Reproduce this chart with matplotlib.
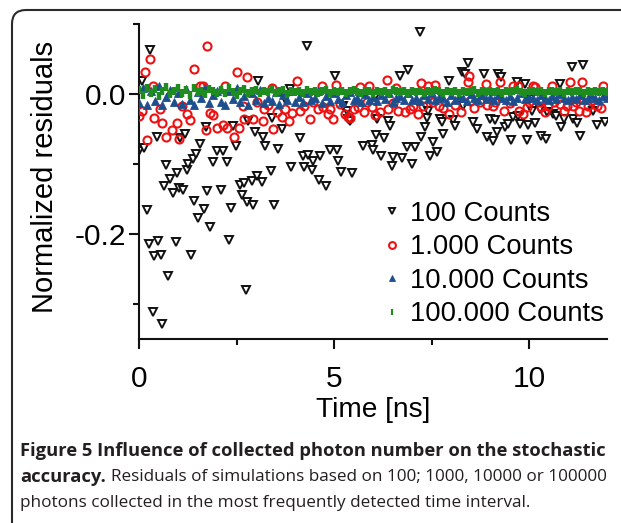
import matplotlib
matplotlib.use("Agg")
import matplotlib.pyplot as plt
from matplotlib.patches import FancyBboxPatch
from matplotlib.transforms import IdentityTransform
from matplotlib.ticker import MultipleLocator, FormatStrFormatter

# ---------------- data ----------------
series_labels = ["100 Counts", "1.000 Counts", "10.000 Counts", "100.000 Counts"]

black_t = [0.00, 0.08, 0.13, 0.21, 0.26, 0.28, 0.36, 0.38, 0.46, 0.49,
           0.56, 0.59, 0.64, 0.69, 0.74, 0.79, 0.87, 0.95, 0.97, 1.03,
           1.05, 1.13, 1.18, 1.23, 1.26, 1.33, 1.38, 1.40, 1.46, 1.51,
           1.56, 1.67, 1.72, 1.74, 1.82, 1.90, 2.00, 2.10, 2.15, 2.26,
           2.31, 2.36, 2.41, 2.49, 2.59, 2.64, 2.69, 2.74, 2.77, 2.79,
           2.90, 2.92, 2.97, 3.03, 3.05, 3.15, 3.18, 3.23, 3.38, 3.41,
           3.46, 3.56, 3.67, 3.74, 3.87, 3.90, 4.13, 4.21, 4.23, 4.31,
           4.33, 4.44, 4.46, 4.62, 4.64, 4.79, 4.90, 5.03, 5.08, 5.10,
           5.18, 5.23, 5.33, 5.36, 5.41, 5.46, 5.74, 5.97, 6.00, 6.05,
           6.08, 6.10, 6.21, 6.28, 6.38, 6.44, 6.49, 6.51, 6.69, 6.74,
           6.87, 6.90, 7.00, 7.08, 7.21, 7.23, 7.33, 7.38, 7.41, 7.46,
           7.54, 7.64, 7.72, 7.77, 7.79, 7.95, 8.05, 8.10, 8.28, 8.31,
           8.36, 8.44, 8.56, 8.67, 8.85, 8.92, 9.00, 9.08, 9.13, 9.18,
           9.21, 9.28, 9.38, 9.46, 9.54, 9.59, 9.69, 9.71, 9.77, 9.90,
           9.95, 9.97, 10.03, 10.08, 10.15, 10.28, 10.30, 10.44, 10.46, 10.62,
           10.69, 10.79, 10.81, 10.90, 11.10, 11.13, 11.23, 11.31, 11.38, 11.64,
           11.74, 11.95]
black_v = [-0.081, 0.019, -0.077, -0.166, -0.214, 0.063, -0.311, -0.231, -0.061, -0.210,
           -0.230, -0.329, -0.131, -0.101, -0.260, -0.121, -0.141, -0.211, -0.113, -0.134,
           -0.063, -0.137, -0.057, -0.109, -0.100, -0.230, -0.093, -0.153, -0.086, -0.177,
           -0.071, -0.164, -0.047, -0.139, -0.190, -0.097, -0.081, -0.137, -0.081, -0.097,
           -0.209, -0.163, -0.046, -0.074, -0.130, -0.144, -0.127, -0.280, -0.154, -0.039,
           -0.124, -0.158, -0.054, -0.117, 0.019, -0.126, -0.061, -0.074, -0.110, -0.034,
           -0.158, -0.079, -0.050, -0.007, 0.007, -0.104, -0.063, -0.089, -0.104, 0.069,
           -0.087, -0.108, -0.096, -0.123, -0.089, -0.131, -0.080, 0.026, -0.080, -0.096,
           -0.111, -0.017, -0.024, -0.036, -0.039, -0.113, -0.074, -0.073, -0.080, -0.004,
           -0.059, -0.036, -0.089, -0.063, -0.039, -0.046, -0.103, -0.090, 0.026, -0.091,
           -0.076, 0.034, -0.100, -0.076, 0.089, -0.061, -0.047, -0.034, -0.024, -0.089,
           -0.069, -0.083, -0.036, -0.040, -0.057, 0.019, -0.037, -0.046, 0.031, -0.017,
           0.029, 0.044, -0.040, -0.050, 0.029, -0.061, -0.036, -0.067, -0.037, -0.054,
           0.029, 0.024, -0.047, -0.043, -0.066, -0.033, 0.017, -0.031, -0.043, 0.014,
           -0.066, -0.044, -0.007, -0.024, -0.041, -0.021, -0.060, -0.064, -0.026, -0.029,
           -0.031, 0.014, -0.047, -0.036, 0.039, -0.036, -0.041, -0.060, 0.041, -0.024,
           -0.044, -0.040]

red_t = [0.00, 0.08, 0.15, 0.21, 0.28, 0.36, 0.38, 0.54, 0.59, 0.69,
         0.85, 0.97, 1.03, 1.10, 1.23, 1.31, 1.41, 1.56, 1.64, 1.72,
         1.74, 1.82, 1.90, 2.00, 2.15, 2.26, 2.44, 2.51, 2.56, 2.67,
         2.69, 2.77, 2.92, 3.03, 3.18, 3.21, 3.44, 3.67, 3.74, 3.85,
         3.92, 4.05, 4.13, 4.23, 4.38, 4.59, 4.69, 4.72, 4.90, 4.97,
         5.05, 5.28, 5.36, 5.41, 5.62, 5.67, 5.77, 5.97, 6.18, 6.36,
         6.38, 6.64, 6.82, 7.03, 7.23, 7.28, 7.41, 7.69, 7.95, 8.44,
         8.46, 8.49, 8.74, 8.90, 8.92, 9.08, 9.13, 9.26, 9.72, 9.74,
         9.95, 10.10, 10.15, 10.28, 10.31, 10.49, 10.79, 10.97, 11.05, 11.13,
         11.28, 11.36, 11.51, 11.74, 12.00,
         3.30, 3.55, 4.45, 4.85, 5.15, 5.50, 5.85, 6.05, 6.50, 6.95,
         7.15, 7.55, 7.80, 8.10, 8.25, 8.60, 9.35, 9.50, 9.85, 10.00,
         10.40, 10.65, 10.90, 11.20, 11.45, 11.60, 11.85, 2.20, 3.40, 5.90,
         6.60, 7.60, 9.60, 10.60, 11.90]
red_v = [-0.031, -0.024, 0.031, -0.066, 0.050, 0.011, -0.034, -0.021, -0.041, -0.061,
         -0.051, -0.041, -0.064, -0.017, -0.029, -0.037, 0.036, 0.011, 0.011, -0.051,
         0.069, -0.027, -0.030, -0.049, -0.044, -0.049, -0.061, 0.031, -0.049, -0.017,
         -0.036, 0.024, -0.036, -0.011, -0.039, -0.021, -0.050, -0.033, -0.021, -0.039,
         -0.027, 0.019, -0.024, -0.017, -0.036, -0.021, 0.011, -0.019, -0.021, -0.036,
         0.013, -0.029, -0.033, -0.034, -0.019, 0.010, -0.026, -0.019, -0.026, 0.020,
         -0.021, -0.024, -0.026, -0.017, 0.016, -0.017, 0.011, -0.017, -0.029, 0.017,
         0.026, -0.010, -0.011, 0.014, -0.016, -0.017, -0.011, 0.017, 0.011, -0.024,
         -0.019, 0.011, 0.010, -0.011, -0.019, -0.017, -0.014, -0.017, 0.017, -0.017,
         -0.024, 0.017, -0.017, -0.017, 0.001,
         -0.015, -0.025, -0.012, -0.028, -0.014, -0.022, -0.012, -0.030, -0.013, -0.022,
         -0.028, -0.012, -0.020, -0.015, -0.025, -0.020, -0.024, -0.013, -0.028, -0.012,
         -0.026, -0.012, -0.024, -0.012, -0.026, -0.010, -0.020, 0.012, 0.008, 0.012,
         0.009, 0.013, 0.011, 0.012, 0.012]

dense_t = [0.0, 0.1, 0.2, 0.3, 0.4, 0.5, 0.6, 0.7, 0.8, 0.9,
           1.0, 1.1, 1.2, 1.3, 1.4, 1.5, 1.6, 1.7, 1.8, 1.9,
           2.0, 2.1, 2.2, 2.3, 2.4, 2.5, 2.6, 2.7, 2.8, 2.9,
           3.0, 3.1, 3.2, 3.3, 3.4, 3.5, 3.6, 3.7, 3.8, 3.9,
           4.0, 4.1, 4.2, 4.3, 4.4, 4.5, 4.6, 4.7, 4.8, 4.9,
           5.0, 5.1, 5.2, 5.3, 5.4, 5.5, 5.6, 5.7, 5.8, 5.9,
           6.0, 6.1, 6.2, 6.3, 6.4, 6.5, 6.6, 6.7, 6.8, 6.9,
           7.0, 7.1, 7.2, 7.3, 7.4, 7.5, 7.6, 7.7, 7.8, 7.9,
           8.0, 8.1, 8.2, 8.3, 8.4, 8.5, 8.6, 8.7, 8.8, 8.9,
           9.0, 9.1, 9.2, 9.3, 9.4, 9.5, 9.6, 9.7, 9.8, 9.9,
           10.0, 10.1, 10.2, 10.3, 10.4, 10.5, 10.6, 10.7, 10.8, 10.9,
           11.0, 11.1, 11.2, 11.3, 11.4, 11.5, 11.6, 11.7, 11.8, 11.9,
           12.0]
blue_v = [-0.013, 0.008, -0.016, 0.004, -0.010, 0.011, -0.015, -0.004, 0.006, -0.012,
          0.002, -0.014, 0.007, -0.009, -0.016, 0.003, -0.006, 0.009, -0.013, -0.002,
          0.005, -0.011, -0.015, 0.004, -0.007, 0.008, -0.012, -0.003, -0.016, 0.002,
          -0.009, 0.006, -0.013, -0.005, -0.010, 0.003, -0.014, -0.001, -0.008, 0.005,
          -0.011, -0.004, -0.012, 0.002, -0.009, -0.006, 0.004, -0.013, -0.003, -0.010,
          0.001, -0.007, -0.011, -0.002, 0.003, -0.009, -0.005, -0.012, 0.000, -0.008,
          -0.004, -0.010, -0.001, -0.007, 0.002, -0.011, -0.006, -0.003, -0.009, 0.001,
          -0.008, -0.005, -0.010, -0.002, -0.007, 0.001, -0.009, -0.004, -0.006, -0.011,
          -0.001, -0.008, -0.003, -0.006, -0.010, 0.000, -0.005, -0.009, -0.002, -0.007,
          -0.004, -0.009, -0.001, -0.006, -0.008, -0.003, -0.010, -0.005, 0.001, -0.007,
          -0.004, -0.006, -0.009, -0.002, -0.005, -0.008, -0.003, -0.007, 0.000, -0.006,
          -0.009, -0.004, -0.007, -0.002, -0.008, -0.005, -0.001, -0.006, -0.009, -0.003,
          -0.005]
green_v = [0.006, -0.002, 0.009, 0.001, 0.007, -0.003, 0.005, 0.010, 0.000, 0.004,
           0.008, 0.002, 0.006, -0.001, 0.008, 0.003, 0.005, 0.000, 0.007, 0.004,
           0.001, 0.006, 0.002, 0.008, 0.003, -0.001, 0.005, 0.007, 0.002, 0.004,
           0.006, 0.001, 0.005, 0.003, 0.007, 0.002, 0.004, 0.006, 0.000, 0.005,
           0.003, 0.004, 0.002, 0.006, 0.003, 0.005, 0.001, 0.004, 0.006, 0.002,
           0.005, 0.003, 0.005, 0.002, 0.004, 0.006, 0.003, 0.001, 0.005, 0.004,
           0.002, 0.005, 0.003, 0.004, 0.002, 0.006, 0.004, 0.003, 0.005, 0.001,
           0.004, 0.003, 0.005, 0.002, 0.004, 0.003, 0.006, 0.004, 0.002, 0.005,
           0.003, 0.004, 0.002, 0.005, 0.003, 0.004, 0.006, 0.002, 0.004, 0.003,
           0.005, 0.003, 0.004, 0.002, 0.005, 0.003, 0.004, 0.006, 0.003, 0.002,
           0.004, 0.005, 0.003, 0.004, 0.002, 0.004, 0.005, 0.003, 0.004, 0.002,
           0.004, 0.003, 0.005, 0.004, 0.002, 0.004, 0.003, 0.005, 0.003, 0.004,
           0.003]

x_label = "Time [ns]"
y_label = "Normalized residuals"
caption_bold_1 = "Figure 5 Influence of collected photon number on the stochastic"
caption_bold_2 = "accuracy."
caption_reg_2 = "Residuals of simulations based on 100; 1000, 10000 or 100000"
caption_reg_3 = "photons collected in the most frequently detected time interval."

# ---------------- figure ----------------
W, H = 621, 523
plt.rcParams["font.family"] = ["Liberation Sans", "DejaVu Sans"]
plt.rcParams["axes.unicode_minus"] = False

fig = plt.figure(figsize=(W / 100, H / 100), dpi=100)
fig.patch.set_facecolor("white")

# rounded outer frame (extends past the right and bottom edges)
frame = FancyBboxPatch((12, -30), 660, 543,
                       boxstyle="round,pad=0,rounding_size=14",
                       transform=IdentityTransform(), fill=False,
                       edgecolor="#2b2b2b", linewidth=1.5)
fig.add_artist(frame)

ax = fig.add_axes([139 / W, 1 - 339 / H, 468 / W, 315 / H])

ax.plot(black_t, black_v, linestyle="none", marker="v", markersize=5.2,
        markerfacecolor="white", markeredgecolor="#111111", markeredgewidth=1.4,
        label=series_labels[0], zorder=2)
ax.plot(red_t, red_v, linestyle="none", marker="o", markersize=5.8,
        markerfacecolor="none", markeredgecolor="#ee1111", markeredgewidth=1.5,
        label=series_labels[1], zorder=3)
ax.plot(dense_t, blue_v, linestyle="none", marker="^", markersize=5.4,
        markerfacecolor="#1d4f8f", markeredgecolor="#1d4f8f", markeredgewidth=0.6,
        label=series_labels[2], zorder=4)
ax.plot(dense_t, green_v, linestyle="none", marker="|", markersize=5.2,
        markeredgecolor="#1e8c1e", markeredgewidth=3.2,
        label=series_labels[3], zorder=5)

ax.set_xlim(0, 12)
ax.set_ylim(-0.35, 0.1)
ax.spines["top"].set_visible(False)
ax.spines["right"].set_visible(False)
for s in ("left", "bottom"):
    ax.spines[s].set_linewidth(1.5)
    ax.spines[s].set_color("#111111")

ax.xaxis.set_major_locator(MultipleLocator(5))
ax.xaxis.set_minor_locator(MultipleLocator(2.5))
ax.yaxis.set_major_locator(MultipleLocator(0.2))
ax.yaxis.set_minor_locator(MultipleLocator(0.1))
ax.xaxis.set_major_formatter(FormatStrFormatter("%d"))
ax.yaxis.set_major_formatter(FormatStrFormatter("%.1f"))
ax.tick_params(which="major", direction="out", length=7.5, width=1.5,
               labelsize=21.5, color="#111111")
ax.tick_params(which="minor", direction="out", length=4.5, width=1.5,
               color="#111111")
ax.tick_params(axis="x", which="major", pad=11)
ax.tick_params(axis="y", which="major", pad=2)

fig.text(45 / W, 1 - 177 / H, y_label, rotation=90, ha="center", va="center",
         fontsize=21)
fig.text(373 / W, 1 - 410 / H, x_label, ha="center", va="center", fontsize=20.2)

leg = ax.legend(loc="upper left", bbox_to_anchor=(384 / W, 1 - 201 / H),
                bbox_transform=fig.transFigure, frameon=False, fontsize=19.7,
                handlelength=0.6, handletextpad=0.35, labelspacing=0.27,
                borderpad=0, borderaxespad=0, markerscale=0.85)
leg.legend_handles[3].set_markeredgewidth(1.5)

# caption
reg_kw = dict(fontfamily=["Open Sans", "DejaVu Sans"], fontsize=12.3,
              color="#231f20", va="center", ha="left")
bold_kw = dict(reg_kw, fontsize=13.2, fontweight="bold")
fig.text(20 / W, 1 - 451 / H, caption_bold_1, **bold_kw)
t_acc = fig.text(20 / W, 1 - 477 / H, caption_bold_2, **bold_kw)
fig.canvas.draw()
bb = t_acc.get_window_extent()
fig.text((bb.x1 + 5) / W, 1 - 477 / H, caption_reg_2, **reg_kw)
fig.text(20 / W, 1 - 503 / H, caption_reg_3, **reg_kw)

fig.savefig("out.png", dpi=100)
